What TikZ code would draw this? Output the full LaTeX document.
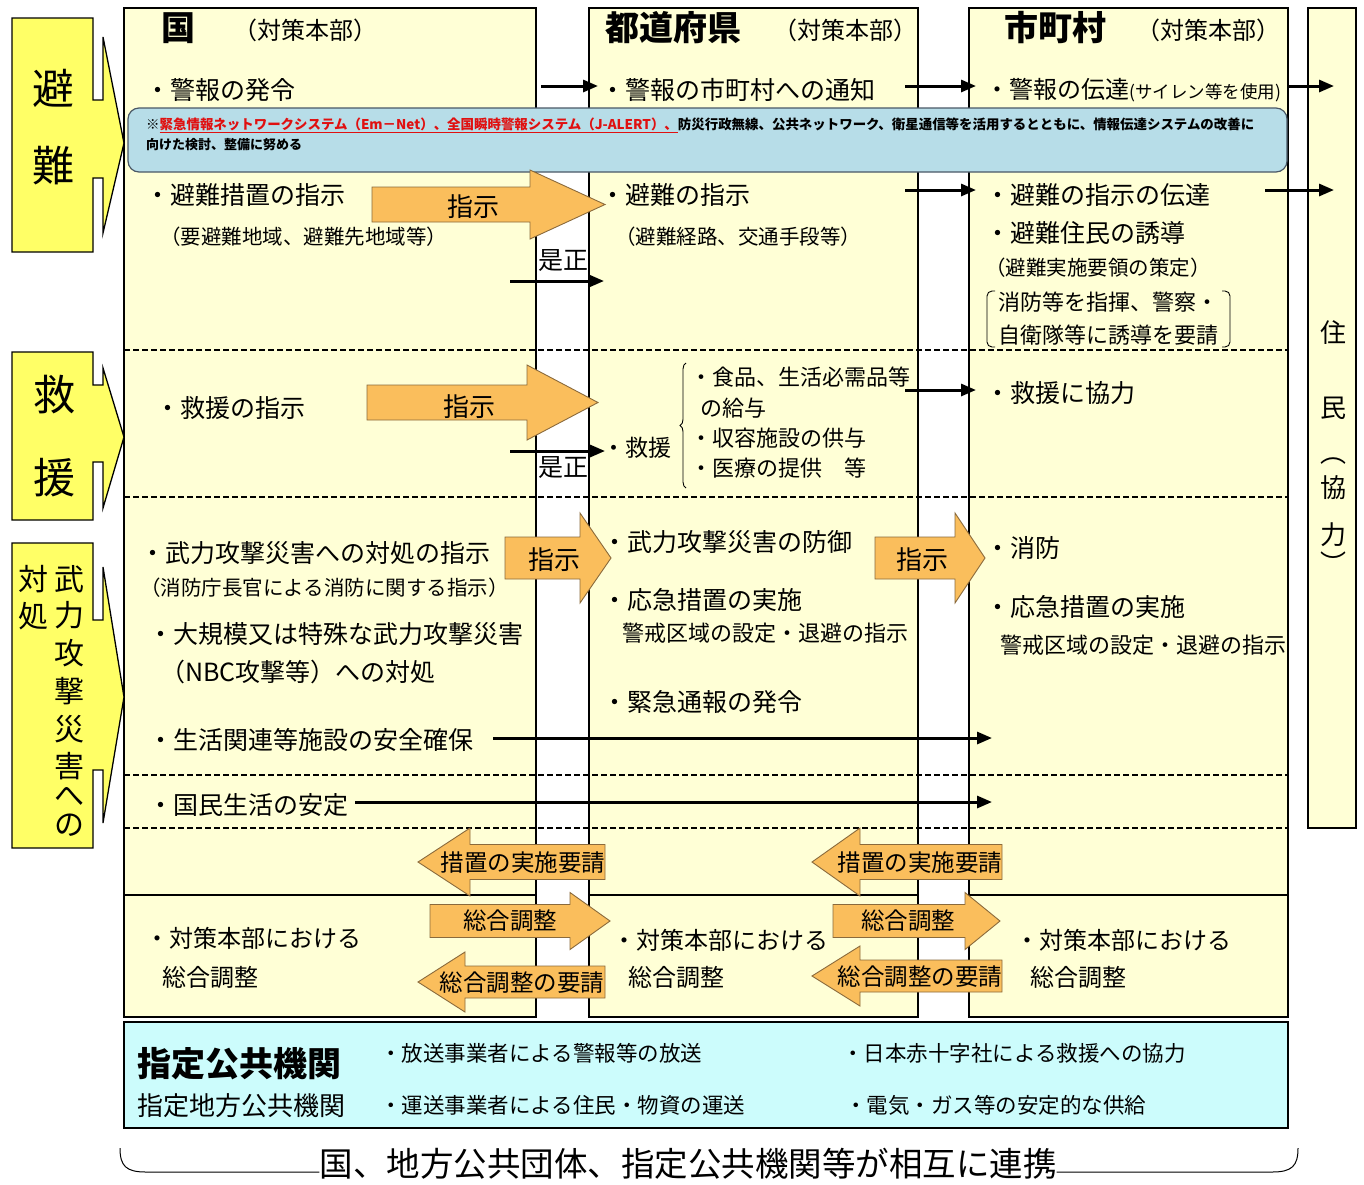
\documentclass[tikz,border=0pt]{standalone}
\usepackage{fontspec}
\setmainfont{Noto Sans CJK JP}
\usetikzlibrary{arrows.meta,decorations.pathreplacing}
\definecolor{colY}{HTML}{FFFFD6}
\definecolor{labY}{HTML}{FFFF66}
\definecolor{orF}{HTML}{FABE5C}
\definecolor{orD}{HTML}{8A6A3C}
\definecolor{bluF}{HTML}{B7DDE8}
\definecolor{bluD}{HTML}{4A5866}
\definecolor{cyF}{HTML}{CCFCFC}
\definecolor{redT}{HTML}{E01010}
\newcommand{\fs}[1]{\fontsize{#1}{#1}\selectfont}
\newcommand{\myblk}[6]{%
  \draw[oblk] ({#1},{#4-#5}) -- ({#2},{#4-#5}) -- ({#2},{#4-#6}) -- ({#3},{#4})
    -- ({#2},{#4+#6}) -- ({#2},{#4+#5}) -- ({#1},{#4+#5}) -- cycle;}
\newcommand{\leftlab}[7]{%
  \draw[lab] (12,#1) -- (93,#1) -- (93,#4) -- (103,#4) -- (103,#3) -- (124,#7)
    -- (103,#6) -- (103,#5) -- (93,#5) -- (93,#2) -- (12,#2) -- cycle;}
\tikzset{
  col/.style={draw=black, line width=1.3pt, fill=colY},
  lab/.style={draw=black, line width=1.3pt, fill=labY},
  oblk/.style={draw=orD, line width=0.9pt, fill=orF},
  dsh/.style={draw=black, line width=2.4pt, dash pattern=on 6pt off 3pt},
  thinarr/.style={draw=black, line width=3pt, -{Triangle[length=15pt,width=12pt]}},
  tx/.style={anchor=west, inner sep=0pt, font=\fs{25}},
  txm/.style={anchor=west, inner sep=0pt, font=\fs{24}},
  txs/.style={anchor=west, inner sep=0pt, font=\fs{20.5}},
  txk/.style={anchor=west, inner sep=0pt, font=\fs{22}},
  hb/.style={inner sep=0pt, font=\bfseries\fs{34}},
  hn/.style={inner sep=0pt, font=\fs{24}},
  ol/.style={inner sep=0pt, font=\fs{23.5}},
  big/.style={inner sep=0pt, font=\fs{42}},
  vt/.style={inner sep=0pt, font=\fs{30}},
  rt/.style={inner sep=0pt, font=\fs{26}},
}
\begin{document}
\begin{tikzpicture}[x=1pt,y=-1pt]
\useasboundingbox (0,0) rectangle (1364,1184);
\fill[white] (0,0) rectangle (1364,1184);

% columns
\draw[col] (124,8) rectangle (536,1017);
\draw[col] (589,8) rectangle (918,1017);
\draw[col] (969,8) rectangle (1288,1017);
\draw[col] (1308,8) rectangle (1356,828);
\draw[line width=1.3pt] (124,895) -- (536,895);
\draw[line width=1.3pt] (589,895) -- (918,895);
\draw[line width=1.3pt] (969,895) -- (1288,895);

% dashed separators
\draw[dsh] (124,350) -- (1288,350);
\draw[dsh] (124,497) -- (1288,497);
\draw[dsh] (124,775) -- (1288,775);
\draw[dsh] (124,828) -- (1288,828);

% left labels
\leftlab{18}{252}{37}{100}{178}{233}{143}
\leftlab{352}{520}{368}{385}{462}{508}{437}
\leftlab{543}{848}{567}{620}{770}{823}{697}
\node[big] (L1) at (53,88) {避};
\node[big] (L2) at (53,166) {難};
\node[big] (L3) at (54,395) {救};
\node[big] (L4) at (54,478) {援};
\node[vt] (V1) at (69,579) {武};
\node[vt] (V2) at (69,615) {力};
\node[vt] (V3) at (69,653) {攻};
\node[vt] (V4) at (69,691) {撃};
\node[vt] (V5) at (69,729) {災};
\node[vt] (V6) at (69,766) {害};
\node[vt] (V7) at (69,797) {へ};
\node[vt] (V8) at (69,825) {の};
\node[vt] (V9) at (33,579) {対};
\node[vt] (V10) at (33,616) {処};

% headers
\node[hb] (hK) at (178,28) {国};
\node[hn] (hK2) at (305,30) {（対策本部）};
\node[hb] (hT) at (673,28) {都道府県};
\node[hn] (hT2) at (845,30) {（対策本部）};
\node[hb] (hS) at (1055,28) {市町村};
\node[hn] (hS2) at (1208,30) {（対策本部）};

% residents column
\node[rt] (R1) at (1333,333) {住};
\node[rt] (R2) at (1333,408) {民};
\node[rt] (R3) at (1333,461) {︵};
\node[rt] (R4) at (1333,488) {協};
\node[rt] (R5) at (1333,535) {力};
\node[rt] (R6) at (1333,563) {︶};

% thin arrows
\coordinate (a1s) at (541,86);  \coordinate (a1e) at (598,86);
\coordinate (a2s) at (905,86);  \coordinate (a2e) at (976,86);
\coordinate (a3s) at (1288,86); \coordinate (a3e) at (1334,86);
\coordinate (a4s) at (905,190); \coordinate (a4e) at (976,190);
\coordinate (a5s) at (1265,190);\coordinate (a5e) at (1334,190);
\coordinate (a6s) at (510,281); \coordinate (a6e) at (604,281);
\coordinate (a7s) at (905,390); \coordinate (a7e) at (976,390);
\coordinate (a8s) at (510,451); \coordinate (a8e) at (605,451);
\coordinate (a9s) at (493,738); \coordinate (a9e) at (992,738);
\coordinate (a10s) at (355,802);\coordinate (a10e) at (992,802);
\foreach \i in {1,...,10} {\draw[thinarr] (a\i s) -- (a\i e);}
\node[inner sep=0pt, font=\fs{25}] (z1) at (563,261) {是正};
\node[inner sep=0pt, font=\fs{25}] (z2) at (563,468) {是正};

% blue info box
\draw[draw=bluD, line width=1.2pt, fill=bluF, rounded corners=11pt] (128,108) rectangle (1287,172);
\node[anchor=west, inner sep=0pt] (info1) at (146,125) {\resizebox{1108pt}{!}{\bfseries\fs{13}※\textcolor{redT}{\underline{緊急情報ネットワークシステム（Em－Net）、全国瞬時警報システム（J-ALERT）、}}防災行政無線、公共ネットワーク、衛星通信等を活用するとともに、情報伝達システムの改善に}};
\node[anchor=west, inner sep=0pt, font=\bfseries\fs{13}] (info2) at (146,145) {向けた検討、整備に努める};

% orange block arrows
\myblk{372}{530}{605}{204.5}{17.5}{34.5}
\myblk{367}{527}{598}{402.5}{17.5}{37.5}
\myblk{505}{580}{611}{558}{21}{45}
\myblk{875}{955}{985}{558}{21}{45}
\myblk{605}{470}{418}{862}{17.5}{34}
\myblk{1002}{860}{812}{862}{17.5}{34}
\myblk{430}{570}{610}{921}{16.5}{28.5}
\myblk{833}{965}{1000}{921}{16.5}{28.5}
\myblk{605}{465}{418}{982}{16}{30}
\myblk{1002}{860}{812}{976}{16}{30}
\node[inner sep=0pt, font=\fs{26}] (o1) at (473,207) {指示};
\node[inner sep=0pt, font=\fs{26}] (o2) at (469,407) {指示};
\node[inner sep=0pt, font=\fs{26}] (o3) at (554,560) {指示};
\node[inner sep=0pt, font=\fs{26}] (o4) at (922,560) {指示};
\node[ol] (o5) at (523,863) {措置の実施要請};
\node[ol] (o6) at (920,863) {措置の実施要請};
\node[ol] (o7) at (510,921) {総合調整};
\node[ol] (o8) at (908,921) {総合調整};
\node[ol] (o9) at (522,983) {総合調整の要請};
\node[ol] (o10) at (920,977) {総合調整の要請};

% national column texts
\node[tx] (k1) at (145,90) {・警報の発令};
\node[tx] (k2) at (145,195) {・避難措置の指示};
\node[txs] (k3) at (160,237) {（要避難地域、避難先地域等）};
\node[tx] (k4) at (155,408) {・救援の指示};
\node[tx] (k5) at (140,553) {・武力攻撃災害への対処の指示};
\node[txs] (k6) at (140,588) {（消防庁長官による消防に関する指示）};
\node[tx] (k7) at (148,634) {・大規模又は特殊な武力攻撃災害};
\node[tx] (k8) at (160,672) {（NBC攻撃等）への対処};
\node[tx] (k9) at (148,740) {・生活関連等施設の安全確保};
\node[tx] (k10) at (148,805) {・国民生活の安定};
\node[txm] (k11) at (145,938) {・対策本部における};
\node[txm] (k12) at (162,977) {総合調整};

% prefecture column texts
\node[tx] (t1) at (600,90) {・警報の市町村への通知};
\node[tx] (t2) at (600,195) {・避難の指示};
\node[txs] (t3) at (615,237) {（避難経路、交通手段等）};
\node[anchor=west, inner sep=0pt, font=\fs{23}] (t4) at (602,448) {・救援};
\draw[line width=0.9pt, decorate, decoration={brace, amplitude=6pt, mirror}] (686,363) -- (686,488);
\node[txk] (t5) at (690,377) {・食品、生活必需品等};
\node[txk] (t6) at (700,408) {の給与};
\node[txk] (t7) at (690,438) {・収容施設の供与};
\node[txk] (t8) at (690,468) {・医療の提供　等};
\node[tx] (t9) at (602,542) {・武力攻撃災害の防御};
\node[tx] (t10) at (602,600) {・応急措置の実施};
\node[txk] (t11) at (622,633) {警戒区域の設定・退避の指示};
\node[tx] (t12) at (602,702) {・緊急通報の発令};
\node[txm] (t13) at (612,940) {・対策本部における};
\node[txm] (t14) at (628,977) {総合調整};

% municipality column texts
\node[txm] (s1) at (985,90) {・警報の伝達\fs{17.5}(サイレン等を使用)};
\node[tx] (s2) at (985,195) {・避難の指示の伝達};
\node[tx] (s3) at (985,233) {・避難住民の誘導};
\node[txs] (s4) at (985,268) {（避難実施要領の策定）};
\draw[line width=0.9pt, rounded corners=5pt] (995,291) -- (987,291) -- (987,347) -- (995,347);
\draw[line width=0.9pt, rounded corners=5pt] (1222,291) -- (1230,291) -- (1230,347) -- (1222,347);
\node[txk] (s5) at (998,302) {消防等を指揮、警察・};
\node[txk] (s6) at (998,335) {自衛隊等に誘導を要請};
\node[tx] (s7) at (985,393) {・救援に協力};
\node[tx] (s8) at (985,548) {・消防};
\node[tx] (s9) at (985,607) {・応急措置の実施};
\node[txk] (s10) at (1000,645) {警戒区域の設定・退避の指示};
\node[txm] (s11) at (1015,940) {・対策本部における};
\node[txm] (s12) at (1030,977) {総合調整};

% designated public institutions
\draw[draw=black, line width=1.3pt, fill=cyF] (124,1022) rectangle (1288,1128);
\node[anchor=west, inner sep=0pt, font=\bfseries\fs{34}] (b1) at (137,1064) {指定公共機関};
\node[anchor=west, inner sep=0pt, font=\fs{26}] (b2) at (137,1106) {指定地方公共機関};
\node[anchor=west, inner sep=0pt, font=\fs{21.5}] (b3) at (380,1053) {・放送事業者による警報等の放送};
\node[anchor=west, inner sep=0pt, font=\fs{21.5}] (b4) at (380,1105) {・運送事業者による住民・物資の運送};
\node[anchor=west, inner sep=0pt, font=\fs{21.5}] (b5) at (842,1053) {・日本赤十字社による救援への協力};
\node[anchor=west, inner sep=0pt, font=\fs{21.5}] (b6) at (845,1105) {・電気・ガス等の安定的な供給};

% bottom brace
\node[inner sep=0pt, font=\fs{33.5}] (bt) at (688,1164) {国、地方公共団体、指定公共機関等が相互に連携};
\draw[line width=1pt] (120,1148) .. controls (120,1166) and (126,1172) .. (146,1172) -- (bt.west |- 0,1172);
\draw[line width=1pt] (bt.east |- 0,1172) -- (1272,1172) .. controls (1292,1172) and (1298,1166) .. (1298,1148);
\end{tikzpicture}
\end{document}
